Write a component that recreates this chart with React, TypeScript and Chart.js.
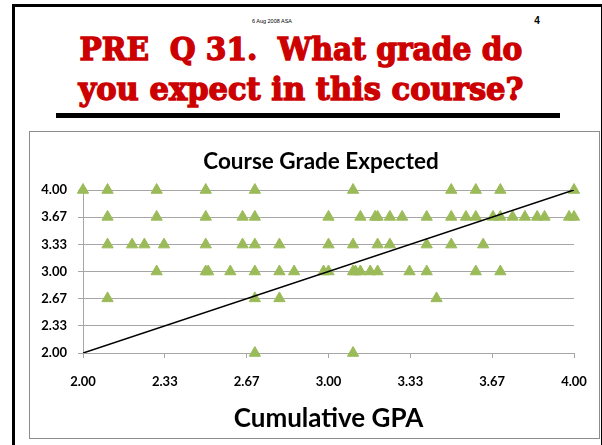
import React, { useEffect, useRef } from "react";
import { Chart, registerables } from "chart.js";

Chart.register(...registerables);

// Tick values / labels (thirds between 2 and 4)
const tickValues = [2.0, 2.3333, 2.6667, 3.0, 3.3333, 3.6667, 4.0];
const tickLabels = ["2.00", "2.33", "2.67", "3.00", "3.33", "3.67", "4.00"];

// Cumulative GPA of students, grouped by expected course grade
const gpaExpect400 = [2.0, 2.1, 2.3, 2.5, 2.7, 3.1, 3.5, 3.6, 3.7, 4.0];
const gpaExpect367 = [2.1, 2.3, 2.5, 2.65, 2.7, 3.0, 3.13, 3.19, 3.2, 3.25, 3.3, 3.4, 3.5, 3.56, 3.6, 3.67, 3.7, 3.75, 3.8, 3.85, 3.88, 3.98, 4.0];
const gpaExpect333 = [2.1, 2.2, 2.25, 2.33, 2.5, 2.65, 2.7, 2.8, 3.0, 3.1, 3.2, 3.25, 3.4, 3.5, 3.63];
const gpaExpect300 = [2.3, 2.5, 2.51, 2.6, 2.7, 2.8, 2.86, 2.98, 3.0, 3.1, 3.11, 3.13, 3.17, 3.2, 3.33, 3.4, 3.6, 3.7];
const gpaExpect267 = [2.1, 2.7, 2.8, 3.44];
const gpaExpect200 = [2.7, 3.1];

const gradeRows: [number, number[]][] = [
  [4.0, gpaExpect400],
  [3.67, gpaExpect367],
  [3.33, gpaExpect333],
  [3.0, gpaExpect300],
  [2.67, gpaExpect267],
  [2.0, gpaExpect200],
];

// Reference line y = x
const refLineX = [2.0, 4.0];
const refLineY = [2.0, 4.0];

const chartTitle = "Course Grade Expected";
const xTitle = "Cumulative GPA";

const titleShift = {
  id: "titleShift",
  afterLayout(chart: any) {
    if (chart.titleBlock) chart.titleBlock.left = 38;
  },
};

export default function App() {
  const canvasRef = useRef<HTMLCanvasElement | null>(null);

  useEffect(() => {
    if (!canvasRef.current) return;
    const points: { x: number; y: number }[] = [];
    gradeRows.forEach(([g, xs]) => xs.forEach((x) => points.push({ x, y: g })));
    const linePts = refLineX.map((x, i) => ({ x, y: refLineY[i] }));

    const fontFam = "Lato, 'Open Sans', sans-serif";
    const setTicks = (scale: any) => {
      scale.ticks = tickValues.map((v) => ({ value: v }));
    };

    const chart = new Chart(canvasRef.current, {
      type: "scatter",
      plugins: [titleShift],
      data: {
        datasets: [
          {
            type: "line",
            data: linePts,
            borderColor: "#000000",
            borderWidth: 1.6,
            pointRadius: 0,
            fill: false,
          } as any,
          {
            type: "scatter",
            data: points,
            pointStyle: "triangle",
            pointRadius: 6.5,
            backgroundColor: "#9BBB59",
            borderColor: "#9BBB59",
            borderWidth: 1,
            clip: false,
          } as any,
        ],
      },
      options: {
        animation: false,
        responsive: false,
        maintainAspectRatio: false,
        layout: { padding: { left: 0, right: 25, top: 0, bottom: 0 } },
        plugins: {
          legend: { display: false },
          tooltip: { enabled: false },
          title: {
            display: true,
            text: chartTitle,
            color: "#000000",
            font: { family: fontFam, size: 22.5, weight: "bold" },
            padding: { top: 16, bottom: 15 },
          },
        },
        scales: {
          x: {
            type: "linear",
            min: 2,
            max: 4,
            afterBuildTicks: setTicks,
            afterFit: (s: any) => {
              s.height = 85;
              s.paddingLeft = 0;
              s.paddingRight = 0;
            },
            grid: {
              drawOnChartArea: false,
              drawTicks: true,
              tickLength: 5,
              color: "#a6a6a6",
            },
            border: { display: true, color: "#a6a6a6", width: 1 },
            ticks: {
              padding: 16,
              color: "#000000",
              font: { family: fontFam, size: 13, weight: "bold" },
              maxRotation: 0,
              autoSkip: false,
              callback: (_v: any, i: number) => tickLabels[i],
            },
            title: {
              display: true,
              text: xTitle,
              color: "#000000",
              font: { family: fontFam, size: 26, weight: "bold" },
              padding: { top: 0, bottom: 4 },
            },
          },
          y: {
            type: "linear",
            min: 2,
            max: 4,
            afterBuildTicks: setTicks,
            afterFit: (s: any) => {
              s.width = 53;
              s.paddingTop = 0;
              s.paddingBottom = 0;
            },
            grid: {
              drawOnChartArea: true,
              drawTicks: true,
              tickLength: 5,
              color: "#a6a6a6",
            },
            border: { display: true, color: "#a6a6a6", width: 1 },
            ticks: {
              padding: 11,
              color: "#000000",
              font: { family: fontFam, size: 13, weight: "bold" },
              autoSkip: false,
              callback: (_v: any, i: number) => tickLabels[i],
            },
          },
        },
      },
    });
    return () => chart.destroy();
  }, []);

  const titleStyle: React.CSSProperties = {
    position: "absolute",
    left: 0,
    width: 602,
    textAlign: "center",
    fontFamily: "'DejaVu Serif', serif",
    fontWeight: "bold",
    fontSize: 32,
    color: "#CC0000",
    whiteSpace: "pre",
    lineHeight: "36px",
    WebkitTextStroke: "1.4px #CC0000",
  };

  return (
    <div
      style={{
        position: "absolute",
        left: 0,
        top: 0,
        width: 602,
        height: 445,
        overflow: "hidden",
        background: "#ffffff",
      }}
    >
      <div
        style={{
          position: "absolute",
          left: 12,
          top: 4,
          width: 586,
          height: 500,
          borderLeft: "3px solid #000",
          borderTop: "3px solid #000",
          borderRight: "3px solid #000",
        }}
      />
      <div
        style={{
          position: "absolute",
          left: 222,
          top: 18,
          width: 100,
          textAlign: "center",
          fontFamily: "'Liberation Sans', Arial, sans-serif",
          fontSize: 5.5,
          color: "#000",
        }}
      >
        6 Aug 2008 ASA
      </div>
      <div
        style={{
          position: "absolute",
          left: 532,
          top: 15,
          width: 10,
          textAlign: "center",
          fontFamily: "'Liberation Sans', Arial, sans-serif",
          fontSize: 10,
          fontWeight: "bold",
          color: "#000",
        }}
      >
        4
      </div>
      <div style={{ ...titleStyle, top: 31 }}>
        <span style={{ display: "inline-block", transform: "scaleX(0.927)" }}>PRE  Q 31.  What grade do</span>
      </div>
      <div style={{ ...titleStyle, top: 71 }}>
        <span style={{ display: "inline-block", transform: "scaleX(0.955)" }}>you expect in this course?</span>
      </div>
      <div
        style={{
          position: "absolute",
          left: 56,
          top: 113,
          width: 504,
          height: 5,
          background: "#000",
        }}
      />
      <div
        style={{
          position: "absolute",
          left: 29,
          top: 131,
          width: 569,
          height: 306,
          border: "1px solid #8c8c8c",
        }}
      >
        <canvas
          ref={canvasRef}
          width={569}
          height={306}
          style={{ display: "block", width: 569, height: 306 }}
        />
      </div>
    </div>
  );
}
